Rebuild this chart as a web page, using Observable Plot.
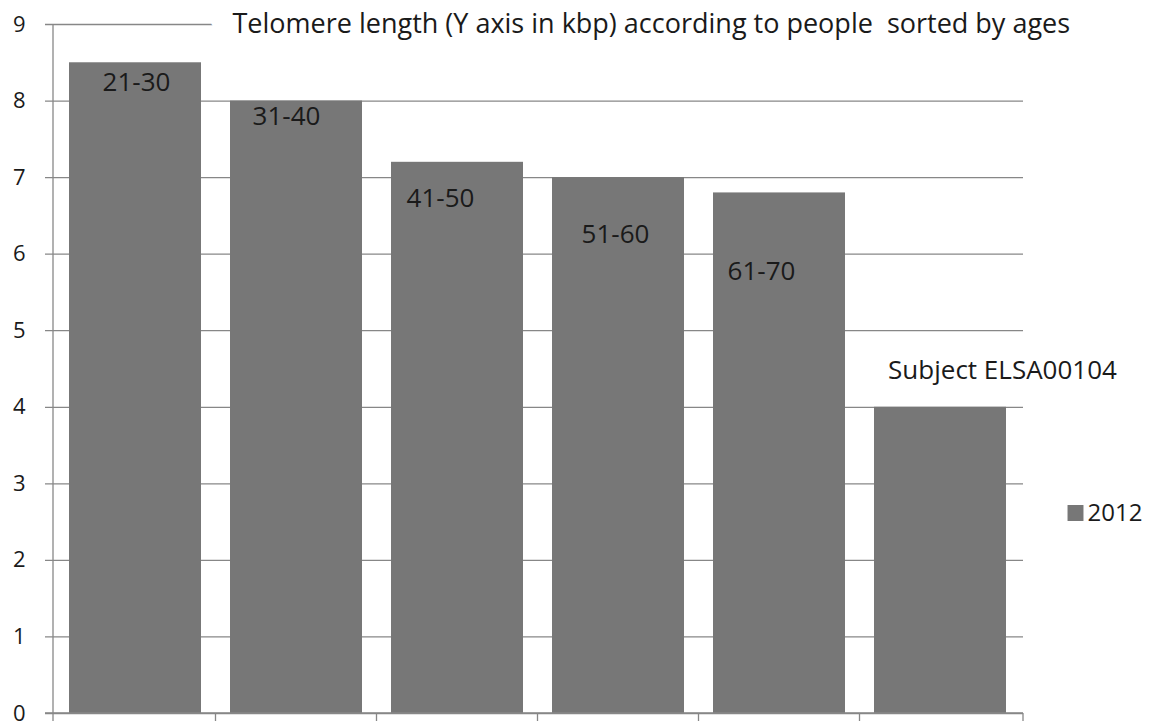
<!DOCTYPE html>
<html>
<head>
<meta charset="utf-8">
<script src="https://cdn.jsdelivr.net/npm/d3@7"></script>
<script src="https://cdn.jsdelivr.net/npm/@observablehq/plot@0.6"></script>
<style>
  html, body { margin: 0; padding: 0; background: #fff; }
  #chart { width: 1149px; height: 723px; }
</style>
</head>
<body>
<div id="chart"></div>
<script>
// Telomere length (kbp) by age group, plus one subject
const categories = ["21-30", "31-40", "41-50", "51-60", "61-70", "Subject ELSA00104"];
const values = [8.5, 8.0, 7.2, 7.0, 6.8, 4.0];
const yTicks = [0, 1, 2, 3, 4, 5, 6, 7, 8, 9];
const seriesName = "2012";
const title = "Telomere length (Y axis in kbp) according to people  sorted by ages";

const data = categories.map((c, i) => ({category: c, value: values[i]}));

// label placement relative to each bar's top-centre (pixels)
const labelOffsets = [[1, 20], [-10, 16], [-17, 36], [-3, 57], [-18, 79], [62, -37]];

const barColor = "#777777";
const lineColor = "#878787";
const textColor = "#1a1a1a";
const font = "'Open Sans', 'Noto Sans', sans-serif";

// axis lines: vertical value axis, category baseline, and category boundary ticks
function categoryAxis(index, scales, values, dims) {
  const {x, y} = scales;
  const bw = typeof x.bandwidth === "function" ? x.bandwidth() : x.bandwidth;
  const left = dims.marginLeft;
  const right = dims.width - dims.marginRight;
  const y0 = y(0);
  const g = d3.create("svg:g").attr("stroke", lineColor).attr("stroke-width", 1.3).attr("fill", "none");
  g.append("line").attr("x1", left).attr("x2", left).attr("y1", y(yTicks[yTicks.length - 1])).attr("y2", y0);
  g.append("line").attr("x1", left - 8).attr("x2", right).attr("y1", y0).attr("y2", y0);
  const bounds = [left];
  for (let i = 0; i < categories.length - 1; i++) {
    bounds.push((x(categories[i]) + bw + x(categories[i + 1])) / 2);
  }
  bounds.push(right);
  for (const b of bounds) {
    g.append("line").attr("x1", b).attr("x2", b).attr("y1", y0).attr("y2", y0 + 8);
  }
  return g.node();
}

const chart = Plot.plot({
  width: 1149,
  height: 723,
  marginLeft: 53,
  marginRight: 126,
  marginTop: 24,
  marginBottom: 10,
  style: {fontFamily: font, background: "#fff", color: textColor},
  x: {domain: categories, paddingInner: 0.18, paddingOuter: 0.09, axis: null},
  y: {domain: [0, 9], axis: null},
  marks: [
    Plot.ruleY(yTicks, {y: d => d, stroke: lineColor, strokeWidth: 1.3, insetLeft: -8}),
    Plot.text(yTicks, {
      y: d => d, text: d => String(d), frameAnchor: "left", dx: -28,
      textAnchor: "end", fontSize: 22, fill: textColor
    }),
    Plot.barY(data, {x: "category", y: "value", fill: barColor}),
    categoryAxis,
    ...data.map((d, i) => Plot.text([d], {
      x: "category", y: "value", text: "category",
      dx: labelOffsets[i][0], dy: labelOffsets[i][1],
      fontSize: 26, fill: textColor
    })),
    Plot.text([title], {
      frameAnchor: "top-left", lineAnchor: "middle", dx: 179, dy: 0, textAnchor: "start",
      fontSize: 27, fill: textColor, stroke: "#fff", strokeWidth: 46,
      style: "white-space: pre"
    }),
    Plot.dot([seriesName], {
      frameAnchor: "right", dx: 52, dy: 144, symbol: "square", r: 9, fill: barColor
    }),
    Plot.text([seriesName], {
      frameAnchor: "right", dx: 64, dy: 144, textAnchor: "start",
      fontSize: 24, fill: textColor
    })
  ]
});

document.getElementById("chart").appendChild(chart);
</script>
</body>
</html>
